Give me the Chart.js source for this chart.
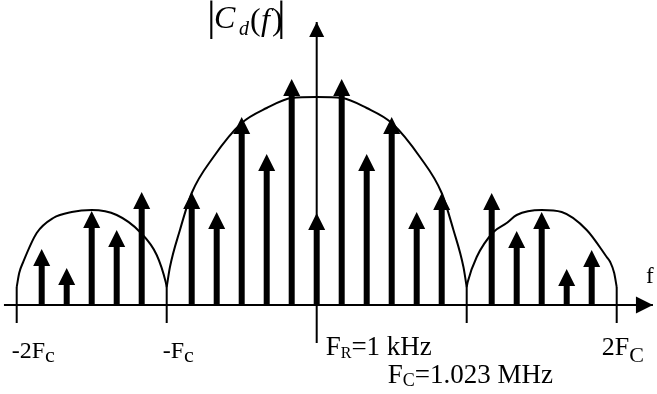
<!DOCTYPE html>
<html>
<head>
<meta charset="utf-8">
<script src="https://cdn.jsdelivr.net/npm/chart.js@4/dist/chart.umd.min.js"></script>
<style>
  html, body { margin: 0; padding: 0; background: #fff; }
  #wrap { width: 657px; height: 394px; }
</style>
</head>
<body>
<div id="wrap"><canvas id="spectrum" width="657" height="394"></canvas></div>
<script>
// spectral lines, index n means n * F_R (drawing uses 6 lines per F_C)
var harmonics = [-11, -10, -9, -8, -7, -5, -4, -3, -2, -1, 0, 1, 2, 3, 4, 5, 7, 8, 9, 10, 11];
var amplitudes = [0.56, 0.37, 0.94, 0.75, 1.13, 1.13, 0.93, 1.88, 1.51, 2.26, 0.92, 2.26, 1.51, 1.88, 0.93, 1.12, 1.12, 0.74, 0.93, 0.36, 0.55];

// envelope
var leftLobeX  = [-12, -11.9, -11.74, -11.2, -10.54, -9.8, -9, -8, -7.07, -6.4, -6.04, -6];
var leftLobeY  = [0.18, 0.32, 0.43, 0.72, 0.87, 0.93, 0.95, 0.90, 0.73, 0.50, 0.23, 0.18];
var mainLobeX  = [-6, -5.87, -5.47, -5, -4.13, -3, -2, -1, 0, 1, 2, 3, 4.13, 5, 5.47, 5.87, 6];
var mainLobeY  = [0.18, 0.38, 0.75, 1.12, 1.48, 1.82, 1.97, 2.07, 2.08, 2.07, 1.97, 1.82, 1.48, 1.12, 0.75, 0.38, 0.18];
var rightLobeX = [6, 6.04, 6.4, 7.07, 7.6, 8, 9, 9.8, 10.8, 11.6, 11.74, 11.9, 12];
var rightLobeY = [0.18, 0.23, 0.48, 0.73, 0.82, 0.90, 0.95, 0.93, 0.75, 0.48, 0.43, 0.32, 0.18];

// marked frequencies on the f axis
var tickPositions = [-12, -6, 6, 12];

function pairs(xs, ys) {
    return xs.map(function(x, i) { return { x: x, y: ys[i] }; });
}

var tickData = [];
tickPositions.forEach(function(t) {
    tickData.push({ x: t, y: 0.18 }, { x: t, y: -0.18 }, { x: t, y: null });
});

var stemWidth = 6, headW = 17, headH = 17;

function arrowHead(ctx, x, y, dir, w, h) {
    ctx.beginPath();
    if (dir === 'up') {
        ctx.moveTo(x, y);
        ctx.lineTo(x - w / 2, y + h);
        ctx.lineTo(x + w / 2, y + h);
    } else {
        ctx.moveTo(x, y);
        ctx.lineTo(x - h, y - w / 2);
        ctx.lineTo(x - h, y + w / 2);
    }
    ctx.closePath();
    ctx.fill();
}

var stemPlugin = {
    id: 'stems',
    afterDatasetsDraw: function(chart) {
        var ctx = chart.ctx;
        var y0 = chart.scales.y.getPixelForValue(0);
        ctx.save();
        ctx.fillStyle = '#000';
        chart.data.datasets.forEach(function(ds, i) {
            var meta = chart.getDatasetMeta(i);
            if (ds.stems) {
                meta.data.forEach(function(pt) {
                    var top = pt.y + headH - 1;
                    ctx.fillRect(pt.x - stemWidth / 2, top, stemWidth, y0 - top);
                    arrowHead(ctx, pt.x, pt.y, 'up', headW, headH);
                });
            }
            if (ds.arrowEnd) {
                var last = meta.data[meta.data.length - 1];
                arrowHead(ctx, last.x, last.y, ds.arrowEnd, ds.arrowW, ds.arrowH);
            }
        });
        ctx.restore();
    }
};

function withSub(ctx, x, y, main, sub, mainFont, subFont, drop) {
    ctx.font = mainFont;
    ctx.fillText(main, x, y);
    x += ctx.measureText(main).width;
    ctx.font = subFont;
    ctx.fillText(sub, x, y + drop);
    return x + ctx.measureText(sub).width;
}

var labelPlugin = {
    id: 'labels',
    afterDraw: function(chart) {
        var ctx = chart.ctx;
        var xs = chart.scales.x;
        var serif = '"Liberation Serif", "Times New Roman", serif';
        ctx.save();
        ctx.fillStyle = '#000';
        ctx.textBaseline = 'alphabetic';

        // |C_d(f)|
        ctx.font = '43px ' + serif;
        ctx.fillText('|', 207, 30);
        ctx.fillText('|', 277, 30);
        ctx.font = 'italic 32px ' + serif;
        ctx.fillText('C', 214, 28);
        ctx.font = 'italic 20px ' + serif;
        ctx.fillText('d', 239, 35);
        ctx.font = '32px ' + serif;
        ctx.fillText('(', 250, 30);
        ctx.fillText(')', 272, 30);
        ctx.font = 'italic 32px ' + serif;
        ctx.fillText('f', 261, 30);

        // f axis name
        ctx.font = '23px ' + serif;
        ctx.fillText('f', 646, 283);

        var main = '24px ' + serif;
        withSub(ctx, xs.getPixelForValue(-12) - 5, 358, '-2F', 'c', main, '22px ' + serif, 4);
        withSub(ctx, xs.getPixelForValue(-6) - 4, 358, '-F', 'c', main, '22px ' + serif, 4);
        withSub(ctx, xs.getPixelForValue(12) - 15, 355, '2F', 'C', '26px ' + serif, '22px ' + serif, 7);

        var x = withSub(ctx, xs.getPixelForValue(0) + 9, 355, 'F', 'R', '27px ' + serif, '16px ' + serif, 3);
        ctx.font = '27px ' + serif;
        ctx.fillText('=1 kHz', x, 355);
        x = withSub(ctx, xs.getPixelForValue(0) + 71, 383, 'F', 'C', '27px ' + serif, '18px ' + serif, 3);
        ctx.font = '27px ' + serif;
        ctx.fillText('=1.023 MHz', x, 383);
        ctx.restore();
    }
};

var lineStyle = { type: 'line', borderColor: '#000', pointRadius: 0, fill: false };

new Chart(document.getElementById('spectrum'), {
    type: 'scatter',
    data: {
        datasets: [
            Object.assign({}, lineStyle, { data: pairs(leftLobeX, leftLobeY), borderWidth: 2, cubicInterpolationMode: 'monotone' }),
            Object.assign({}, lineStyle, { data: pairs(mainLobeX, mainLobeY), borderWidth: 2, cubicInterpolationMode: 'monotone' }),
            Object.assign({}, lineStyle, { data: pairs(rightLobeX, rightLobeY), borderWidth: 2, cubicInterpolationMode: 'monotone' }),
            Object.assign({}, lineStyle, { data: tickData, borderWidth: 2, spanGaps: false }),
            Object.assign({}, lineStyle, { data: [{ x: -12.51, y: 0 }, { x: 13.45, y: 0 }], borderWidth: 2,
                arrowEnd: 'right', arrowW: 17, arrowH: 17 }),
            Object.assign({}, lineStyle, { data: [{ x: 0, y: -0.38 }, { x: 0, y: 2.83 }], borderWidth: 2,
                arrowEnd: 'up', arrowW: 15, arrowH: 15 }),
            { data: pairs(harmonics, amplitudes), pointRadius: 0, stems: true }
        ]
    },
    options: {
        responsive: false,
        animation: false,
        devicePixelRatio: 1,
        layout: { padding: 0 },
        plugins: { legend: { display: false }, tooltip: { enabled: false } },
        scales: {
            x: { type: 'linear', display: false, min: -12.668, max: 13.612 },
            y: { type: 'linear', display: false, min: -0.89, max: 3.05 }
        }
    },
    plugins: [stemPlugin, labelPlugin]
});
</script>
</body>
</html>
